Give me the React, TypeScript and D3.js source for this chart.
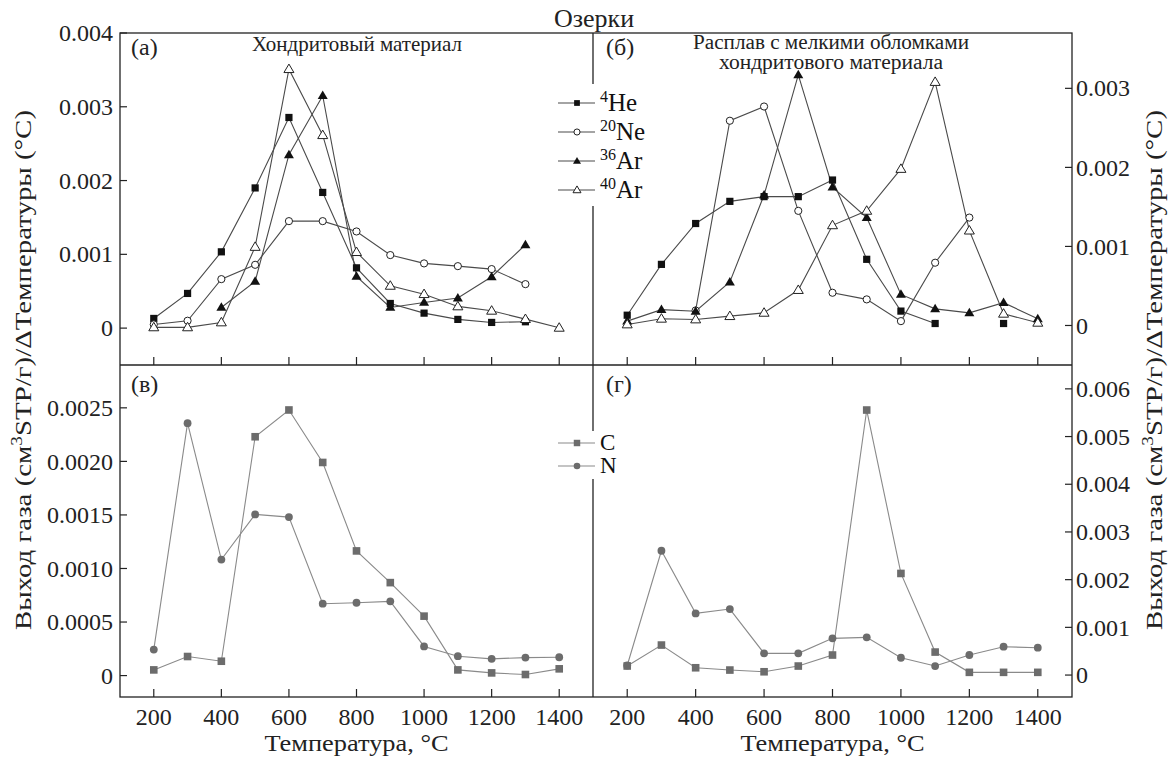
import React from 'react';
import * as d3 from 'd3';

// ---------- data ----------
const temps = [200, 300, 400, 500, 600, 700, 800, 900, 1000, 1100, 1200, 1300, 1400];
const xTickValues = [200, 400, 600, 800, 1000, 1200, 1400];

// (a) Хондритовый материал
const he4A = [0.000131, 0.00047, 0.001034, 0.0019, 0.002855, 0.001839, 0.000817, 0.000334, 0.000203, 0.000118, 0.000077, 0.000086, null];
const ne20A = [0.00005, 0.0001, 0.000664, 0.000858, 0.00145, 0.00145, 0.00131, 0.00099, 0.000877, 0.00084, 0.0008, 0.000596, null];
const ar36A = [null, null, 0.00028, 0.000633, 0.00235, 0.00315, 0.0007, 0.00028, 0.000348, 0.000407, 0.000696, 0.00113, null];
const ar40A = [0.00001, 0.00001, 0.000077, 0.0011, 0.00351, 0.002615, 0.00103, 0.000573, 0.00046, 0.000294, 0.000235, 0.000122, 0.000004];

// (б) Расплав с мелкими обломками хондритового материала
const he4B = [0.00013, 0.000773, 0.00129, 0.00157, 0.00163, 0.00163, 0.00184, 0.000837, 0.000182, 0.000025, null, 0.000025, null];
const ne20B = [null, null, 0.00019, 0.00259, 0.00277, 0.00145, 0.000414, 0.00033, 0.000055, 0.000794, 0.001365, null, null];
const ar36B = [0.000055, 0.0002, 0.00018, 0.00055, 0.00165, 0.00317, 0.00175, 0.001365, 0.000393, 0.00021, 0.00016, 0.000288, 0.000085];
const ar40B = [0.000013, 0.000085, 0.000076, 0.000118, 0.00016, 0.000448, 0.001267, 0.00145, 0.00198, 0.00308, 0.0012, 0.000148, 0.000034];

// (в) C, N
const cV = [0.000053, 0.000178, 0.000134, 0.00223, 0.00248, 0.00199, 0.001164, 0.000868, 0.000555, 0.000053, 0.000025, 0.00001, 0.000063];
const nV = [0.000243, 0.002357, 0.001083, 0.001505, 0.00148, 0.000671, 0.00068, 0.000693, 0.000272, 0.000181, 0.000156, 0.000168, 0.000171];

// (г) C, N
const cG = [0.00019, 0.000629, 0.000153, 0.000105, 0.000069, 0.000189, 0.00042, 0.005556, 0.00213, 0.000482, 0.000057, 0.000057, 0.000057];
const nG = [0.0002, 0.002606, 0.001293, 0.001384, 0.000455, 0.000455, 0.00077, 0.00079, 0.000363, 0.000189, 0.00042, 0.000594, 0.000573];

const yTicksA = [0, 0.001, 0.002, 0.003, 0.004];
const yTicksB = [0, 0.001, 0.002, 0.003];
const yTicksV = [0, 0.0005, 0.001, 0.0015, 0.002, 0.0025];
const yTicksG = [0, 0.001, 0.002, 0.003, 0.004, 0.005, 0.006];

const title = 'Озерки';
const xTitle = 'Температура, °C';

// ---------- layout ----------
const W = 1170, H = 758;
const xL0 = 120, xMid = 593, xR1 = 1072;
const yT0 = 33, yMid = 365, yB1 = 697;
const FONT = '"Liberation Serif", "Times New Roman", serif';
const TOP_LINE = '#4a4a4a';
const TOP_MARK = '#111';
const BOT_LINE = '#8a8a8a';
const BOT_MARK = '#6c6c6c';
const TICK_FS = 24;

type Marker = 'fsquare' | 'ocircle' | 'ftri' | 'otri' | 'gsquare' | 'gcircle';

function MarkerShape({ type, x, y, s = 1 }: { type: Marker; x: number; y: number; s?: number }) {
  switch (type) {
    case 'fsquare':
      return <rect x={x - 3.6 * s} y={y - 3.6 * s} width={7.2 * s} height={7.2 * s} fill={TOP_MARK} />;
    case 'ocircle':
      return <circle cx={x} cy={y} r={3.6 * s} fill="#fff" stroke="#222" strokeWidth={1} />;
    case 'ftri': {
      const w = 5 * s, h = 8.5 * s;
      return <path d={`M${x},${y - h * 0.6}L${x + w},${y + h * 0.4}L${x - w},${y + h * 0.4}Z`} fill={TOP_MARK} />;
    }
    case 'otri': {
      const w = 5 * s, h = 8.5 * s;
      return <path d={`M${x},${y - h * 0.6}L${x + w},${y + h * 0.4}L${x - w},${y + h * 0.4}Z`} fill="#fff" stroke="#222" strokeWidth={1} />;
    }
    case 'gsquare':
      return <rect x={x - 3.8 * s} y={y - 3.8 * s} width={7.6 * s} height={7.6 * s} fill={BOT_MARK} />;
    case 'gcircle':
      return <circle cx={x} cy={y} r={3.9 * s} fill={BOT_MARK} />;
  }
  return null;
}

interface SeriesDef { values: (number | null)[]; marker: Marker; color: string }

function Panel({ x0, x1, y0, y1, yDomain, yTicks, yFmt, side, series }: {
  x0: number; x1: number; y0: number; y1: number; yDomain: [number, number]; yTicks: number[];
  yFmt: (v: number) => string; side: 'left' | 'right'; series: SeriesDef[];
}) {
  const x = d3.scaleLinear().domain([100, 1500]).range([x0, x1]);
  const y = d3.scaleLinear().domain(yDomain).range([y1, y0]);
  const line = d3.line<[number, number | null]>()
    .defined(d => d[1] !== null)
    .x(d => x(d[0]))
    .y(d => y(d[1] as number));
  return (
    <g>
      {xTickValues.map(t => (
        <line key={'xt' + t} x1={x(t)} x2={x(t)} y1={y1} y2={y1 - 8} stroke="#222" strokeWidth={1.2} />
      ))}
      {yTicks.map(t => side === 'left' ? (
        <g key={'yt' + t}>
          <line x1={x0} x2={x0 + 7} y1={y(t)} y2={y(t)} stroke="#222" strokeWidth={1.2} />
          <text x={x0 - 7} y={y(t)} dy="0.34em" textAnchor="end" fontSize={TICK_FS} fontFamily={FONT} fill="#222">{yFmt(t)}</text>
        </g>
      ) : (
        <g key={'yt' + t}>
          <line x1={x1} x2={x1 - 7} y1={y(t)} y2={y(t)} stroke="#222" strokeWidth={1.2} />
          <text x={x1 + 4} y={y(t)} dy="0.34em" textAnchor="start" fontSize={TICK_FS} fontFamily={FONT} fill="#222">{yFmt(t)}</text>
        </g>
      ))}
      {series.map((s, i) => {
        const pts = temps.map((t, k) => [t, s.values[k]] as [number, number | null]);
        return <path key={'s' + i} d={line(pts) || ''} fill="none" stroke={s.color} strokeWidth={1.1} />;
      })}
      {series.map((s, i) => (
        <g key={'m' + i}>
          {temps.map((t, k) => s.values[k] === null ? null : (
            <MarkerShape key={k} type={s.marker} x={x(t)} y={y(s.values[k] as number)} />
          ))}
        </g>
      ))}
    </g>
  );
}

const fmtTop = (v: number) => v === 0 ? '0' : d3.format('.3f')(v);
const fmtV = (v: number) => v === 0 ? '0' : d3.format('.4f')(v);

function LegendItem({ y, marker, color, sup, label, s, fs }: { y: number; marker: Marker; color: string; sup?: string; label: string; s: number; fs: number }) {
  return (
    <g>
      <line x1={558} x2={595} y1={y} y2={y} stroke={color} strokeWidth={1.1} />
      <MarkerShape type={marker} x={577} y={y} s={s} />
      <text x={600} y={y + fs * 0.32} fontSize={fs} fontFamily={FONT} fill="#111">
        {sup ? <tspan fontSize={16} dy={-9}>{sup}</tspan> : null}
        <tspan dy={sup ? 9 : 0}>{label}</tspan>
      </text>
    </g>
  );
}

function YTitle({ x }: { x: number }) {
  return (
    <text transform={`translate(${x},370) rotate(-90)`} textAnchor="middle" fontSize={24} fontFamily={FONT} fill="#222"
      textLength={520} lengthAdjust="spacingAndGlyphs">
      Выход газа (см<tspan fontSize={16} dy={-9}>3</tspan><tspan dy={9}>STP/г)/ΔТемпературы (°C)</tspan>
    </text>
  );
}

export default function App() {
  return (
    <svg width={W} height={H} style={{ position: 'absolute', left: 0, top: 0, background: '#fff' }}>
      <rect x={0} y={0} width={W} height={H} fill="#fff" />
      <text x={594} y={27} textAnchor="middle" fontSize={26} fontFamily={FONT} fill="#222">{title}</text>

      <Panel x0={xL0} x1={xMid} y0={yT0} y1={yMid} yDomain={[-0.0005, 0.004]} yTicks={yTicksA} yFmt={fmtTop} side="left"
        series={[
          { values: he4A, marker: 'fsquare', color: TOP_LINE },
          { values: ne20A, marker: 'ocircle', color: TOP_LINE },
          { values: ar36A, marker: 'ftri', color: TOP_LINE },
          { values: ar40A, marker: 'otri', color: TOP_LINE },
        ]} />
      <Panel x0={xMid} x1={xR1} y0={yT0} y1={yMid} yDomain={[-0.0005, 0.0037]} yTicks={yTicksB} yFmt={fmtTop} side="right"
        series={[
          { values: he4B, marker: 'fsquare', color: TOP_LINE },
          { values: ne20B, marker: 'ocircle', color: TOP_LINE },
          { values: ar36B, marker: 'ftri', color: TOP_LINE },
          { values: ar40B, marker: 'otri', color: TOP_LINE },
        ]} />
      <Panel x0={xL0} x1={xMid} y0={yMid} y1={yB1} yDomain={[-0.0002, 0.0029]} yTicks={yTicksV} yFmt={fmtV} side="left"
        series={[
          { values: cV, marker: 'gsquare', color: BOT_LINE },
          { values: nV, marker: 'gcircle', color: BOT_LINE },
        ]} />
      <Panel x0={xMid} x1={xR1} y0={yMid} y1={yB1} yDomain={[-0.00046, 0.0065]} yTicks={yTicksG} yFmt={fmtTop} side="right"
        series={[
          { values: cG, marker: 'gsquare', color: BOT_LINE },
          { values: nG, marker: 'gcircle', color: BOT_LINE },
        ]} />

      {/* frame */}
      <rect x={xL0} y={yT0} width={xR1 - xL0} height={yB1 - yT0} fill="none" stroke="#222" strokeWidth={1.3} />
      <line x1={xL0} x2={xR1} y1={yMid} y2={yMid} stroke="#222" strokeWidth={1.3} />
      <line x1={xMid} x2={xMid} y1={yT0} y2={yB1} stroke="#222" strokeWidth={1.3} />

      {/* legends */}
      <rect x={553} y={84} width={100} height={122} fill="#fff" />
      <LegendItem y={103} marker="fsquare" color={TOP_LINE} sup="4" label="He" s={0.8} fs={25} />
      <LegendItem y={132} marker="ocircle" color={TOP_LINE} sup="20" label="Ne" s={0.85} fs={25} />
      <LegendItem y={161} marker="ftri" color={TOP_LINE} sup="36" label="Ar" s={0.8} fs={25} />
      <LegendItem y={190} marker="otri" color={TOP_LINE} sup="40" label="Ar" s={0.8} fs={25} />

      <rect x={553} y={431} width={70} height={48} fill="#fff" />
      <LegendItem y={443} marker="gsquare" color={BOT_LINE} label="C" s={0.85} fs={23} />
      <LegendItem y={466} marker="gcircle" color={BOT_LINE} label="N" s={0.85} fs={23} />

      {/* panel labels */}
      <text x={131} y={55} fontSize={24} fontFamily={FONT} fill="#222">(a)</text>
      <text x={357} y={51} textAnchor="middle" fontSize={21} fontFamily={FONT} fill="#222">Хондритовый материал</text>
      <text x={606} y={55} fontSize={24} fontFamily={FONT} fill="#222">(б)</text>
      <text x={831} y={49} textAnchor="middle" fontSize={20} fontFamily={FONT} fill="#222"
        textLength={276} lengthAdjust="spacingAndGlyphs">Расплав с мелкими обломками</text>
      <text x={831} y={69} textAnchor="middle" fontSize={20} fontFamily={FONT} fill="#222"
        textLength={224} lengthAdjust="spacingAndGlyphs">хондритового материала</text>
      <text x={131} y={392} fontSize={24} fontFamily={FONT} fill="#222">(в)</text>
      <text x={606} y={392} fontSize={24} fontFamily={FONT} fill="#222">(г)</text>

      {/* x tick labels and titles */}
      {[{ x0: xL0, x1: xMid }, { x0: xMid, x1: xR1 }].map((p, i) => {
        const xs = d3.scaleLinear().domain([100, 1500]).range([p.x0, p.x1]);
        return (
          <g key={'xa' + i}>
            {xTickValues.map(t => (
              <text key={t} x={xs(t)} y={725} textAnchor="middle" fontSize={TICK_FS} fontFamily={FONT} fill="#222">{t}</text>
            ))}
            <text x={(p.x0 + p.x1) / 2} y={751} textAnchor="middle" fontSize={24} fontFamily={FONT} fill="#222"
              textLength={184} lengthAdjust="spacingAndGlyphs">{xTitle}</text>
          </g>
        );
      })}

      <YTitle x={31} />
      <YTitle x={1162} />
    </svg>
  );
}
